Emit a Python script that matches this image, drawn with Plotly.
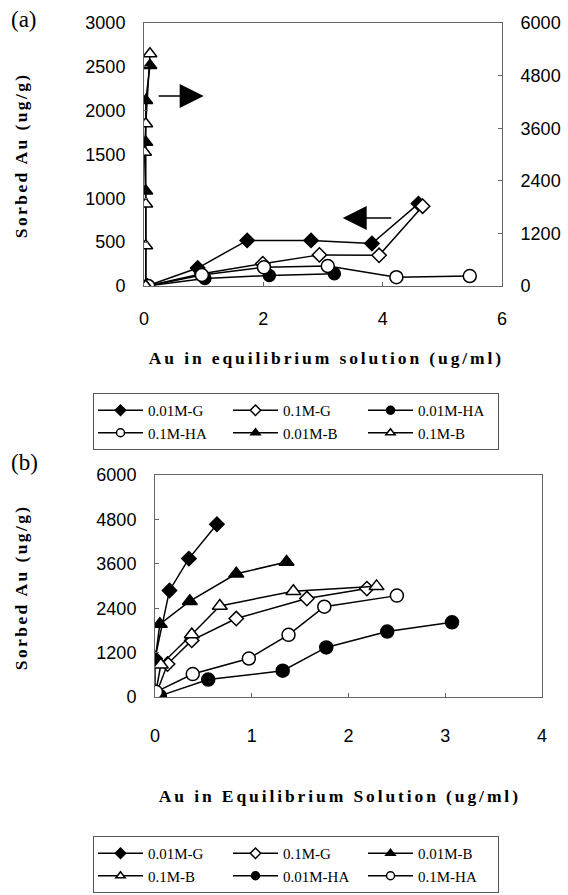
import plotly.graph_objects as go

# ---------------- data : panel (a) ----------------
A_X_G001 = [0.05, 0.90, 1.73, 2.80, 3.82, 4.60]
A_Y_G001 = [0, 205, 520, 520, 485, 940]
A_X_G01 = [0.05, 0.97, 1.99, 2.94, 3.94, 4.67]
A_Y_G01 = [0, 140, 255, 355, 350, 910]
A_X_HA001 = [0.05, 1.02, 2.10, 3.19]
A_Y_HA001 = [0, 85, 120, 140]
A_X_HA01 = [0.07, 0.97, 2.01, 3.08, 4.23, 5.46]
A_Y_HA01 = [0, 125, 213, 228, 100, 114]
A_X_B001 = [0.03, 0.03, 0.03, 0.03, 0.10]
A_Y_B001 = [0, 2170, 3280, 4230, 5030]
A_X_B01 = [0.03, 0.03, 0.03, 0.01, 0.03, 0.10]
A_Y_B01 = [0, 920, 1870, 3050, 3700, 5300]

# ---------------- data : panel (b) ----------------
B_X_G001 = [0.0, 0.15, 0.35, 0.64]
B_Y_G001 = [1040, 2880, 3740, 4670]
B_X_G01 = [0.0, 0.13, 0.38, 0.84, 1.57, 2.19]
B_Y_G01 = [0, 890, 1530, 2120, 2660, 2930]
B_X_B001 = [0.0, 0.0, 0.05, 0.36, 0.84, 1.36]
B_Y_B001 = [0, 970, 1970, 2590, 3330, 3650]
B_X_B01 = [0.0, 0.06, 0.38, 0.67, 1.43, 2.29]
B_Y_B01 = [0, 870, 1690, 2460, 2860, 2990]
B_X_HA001 = [0.05, 0.55, 1.32, 1.77, 2.40, 3.07]
B_Y_HA001 = [30, 470, 710, 1340, 1770, 2020]
B_X_HA01 = [0.01, 0.39, 0.97, 1.38, 1.75, 2.50]
B_Y_HA01 = [140, 620, 1040, 1680, 2440, 2740]

A_LEFT_TICKS = [0, 500, 1000, 1500, 2000, 2500, 3000]
A_RIGHT_TICKS = [0, 1200, 2400, 3600, 4800, 6000]
A_X_TICKS = [0, 2, 4, 6]
B_Y_TICKS = [0, 1200, 2400, 3600, 4800, 6000]
B_X_TICKS = [0, 1, 2, 3, 4]

# arrows (data coordinates)
ARROW_R = dict(x0=0.22, x1=1.0, y=4335)   # on right axis
ARROW_L = dict(x0=4.17, x1=3.33, y=776)   # on left axis

W, H = 568, 895
ML, MR = 60, 20
GW = W - ML - MR

def fx(px):
    return (px - ML) / GW

def fy(py):
    return 1 - py / H

SERIF = "Liberation Serif"
SANS = "Liberation Sans"

fig = go.Figure()

def style(symbol, filled, size):
    return dict(symbol=symbol, size=size,
                color="black" if filled else "white",
                line=dict(color="black", width=1.5))

line = dict(color="black", width=1.5)

def add(x, y, name, sym, filled, size, xa, ya, lg):
    # data trace (no legend entry)
    fig.add_trace(go.Scatter(x=x, y=y, name=name, mode="lines+markers", line=line,
                             marker=style(sym, filled, size), xaxis=xa, yaxis=ya,
                             showlegend=False, legendgroup=lg + name))
    # legend entry with smaller symbol, as in the reference key
    fig.add_trace(go.Scatter(x=[None], y=[None], name=name, mode="lines+markers", line=line,
                             marker=style(sym, filled, 8), xaxis=xa, yaxis=ya,
                             legend=lg, legendgroup=lg + name, hoverinfo="skip"))

# panel (a)
add(A_X_G001, A_Y_G001, "0.01M-G", "diamond", True, 11, "x", "y", "legend")
add(A_X_G01, A_Y_G01, "0.1M-G", "diamond", False, 11, "x", "y", "legend")
add(A_X_HA001, A_Y_HA001, "0.01M-HA", "circle", True, 12, "x", "y", "legend")
add(A_X_HA01, A_Y_HA01, "0.1M-HA", "circle", False, 13, "x", "y", "legend")
add(A_X_B001, A_Y_B001, "0.01M-B", "triangle-up", True, 12, "x", "y2", "legend")
add(A_X_B01, A_Y_B01, "0.1M-B", "triangle-up", False, 12, "x", "y2", "legend")

# panel (b)
add(B_X_G001, B_Y_G001, "0.01M-G", "diamond", True, 11, "x2", "y3", "legend2")
add(B_X_G01, B_Y_G01, "0.1M-G", "diamond", False, 11, "x2", "y3", "legend2")
add(B_X_B001, B_Y_B001, "0.01M-B", "triangle-up", True, 13, "x2", "y3", "legend2")
add(B_X_B01, B_Y_B01, "0.1M-B", "triangle-up", False, 13, "x2", "y3", "legend2")
add(B_X_HA001, B_Y_HA001, "0.01M-HA", "circle", True, 13, "x2", "y3", "legend2")
add(B_X_HA01, B_Y_HA01, "0.1M-HA", "circle", False, 13, "x2", "y3", "legend2")

axis_common = dict(showgrid=False, zeroline=False, showline=True,
                   linecolor="#666", linewidth=1, ticks="inside", ticklen=4,
                   tickcolor="#666", tickfont=dict(family=SANS, size=18, color="black"))

legend_common = dict(orientation="h", xanchor="left", yanchor="top",
                     bordercolor="#555", borderwidth=1, bgcolor="white",
                     font=dict(family=SERIF, size=15, color="black"),
                     entrywidth=75, itemwidth=45, tracegroupgap=0, groupclick="toggleitem")

fig.update_layout(
    width=W, height=H,
    margin=dict(l=ML, r=MR, t=0, b=0, autoexpand=False),
    paper_bgcolor="white", plot_bgcolor="white",
    xaxis=dict(domain=[fx(144), fx(502)], range=[0, 6], tickvals=A_X_TICKS, mirror=True,
               anchor="y", ticklabelstandoff=16, **axis_common),
    yaxis=dict(domain=[fy(286), fy(23)], range=[0, 3000], tickvals=A_LEFT_TICKS, mirror=True,
               anchor="x", ticklabelstandoff=14, **axis_common),
    yaxis2=dict(range=[0, 6000], tickvals=A_RIGHT_TICKS, overlaying="y", side="right",
                anchor="x", ticklabelstandoff=14, **axis_common),
    xaxis2=dict(domain=[fx(155), fx(542)], range=[0, 4], tickvals=B_X_TICKS, mirror=True,
                anchor="y3", ticklabelstandoff=22, **axis_common),
    yaxis3=dict(domain=[fy(697), fy(475)], range=[0, 6000], tickvals=B_Y_TICKS, mirror=True,
                anchor="x2", ticklabelstandoff=14, **axis_common),
    legend=dict(x=fx(93), y=fy(393), **legend_common),
    legend2=dict(x=fx(93), y=fy(836), **legend_common),
    showlegend=True,
)

TITLE_FONT = dict(family=SERIF, size=17.5, color="black")
C = dict(xref="paper", yref="paper", showarrow=False, xanchor="center", yanchor="middle")
ann = []
ann.append(dict(text="(a)", x=fx(24), y=fy(19), font=dict(family=SERIF, size=23, color="black"), **C))
ann.append(dict(text="(b)", x=fx(24), y=fy(462), font=dict(family=SERIF, size=23, color="black"), **C))
ann.append(dict(text="<b>Sorbed Au (ug/g)</b>", x=fx(21), y=fy(155), textangle=-90, font=TITLE_FONT, **C))
ann.append(dict(text="<b>Sorbed Au (ug/g)</b>", x=fx(21), y=fy(587), textangle=-90, font=TITLE_FONT, **C))
ann.append(dict(text="<b>Au in equilibrium solution (ug/ml)</b>", x=fx(326), y=fy(358), font=TITLE_FONT, **C))
ann.append(dict(text="<b>Au in Equilibrium Solution (ug/ml)</b>", x=fx(340), y=fy(796), font=TITLE_FONT, **C))
ann.append(dict(x=ARROW_R["x1"], y=ARROW_R["y"], ax=ARROW_R["x0"], ay=ARROW_R["y"],
                xref="x", yref="y2", axref="x", ayref="y2", text="", showarrow=True,
                arrowhead=2, arrowsize=3, arrowwidth=1.6, arrowcolor="black"))
ann.append(dict(x=ARROW_L["x1"], y=ARROW_L["y"], ax=ARROW_L["x0"], ay=ARROW_L["y"],
                xref="x", yref="y", axref="x", ayref="y", text="", showarrow=True,
                arrowhead=2, arrowsize=3, arrowwidth=1.6, arrowcolor="black"))
fig.update_layout(annotations=ann)

post = """
document.body.style.margin = '0';
document.body.style.padding = '0';
var gd = document.getElementById('{plot_id}');
function spaceTitles(){
  gd.querySelectorAll('g.annotation').forEach(function(g){
    var idx = g.getAttribute('data-index');
    var t = g.querySelector('text.annotation-text');
    if(!t) return;
    if(idx === '2' || idx === '3'){ t.style.letterSpacing = '2.4px'; }
    if(idx === '4' || idx === '5'){ t.style.letterSpacing = '2.9px'; }
  });
}
spaceTitles();
gd.on('plotly_afterplot', spaceTitles);
"""

fig.write_html("out.html", post_script=post, config={"displayModeBar": False})
